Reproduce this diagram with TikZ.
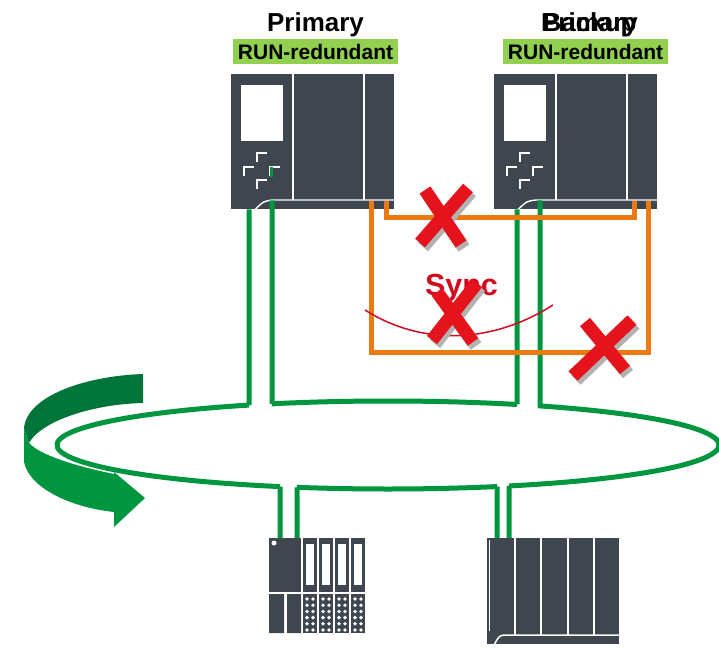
\documentclass[tikz,border=0pt]{standalone}
\usepackage{fontspec}
\setmainfont{Liberation Sans}
\usetikzlibrary{calc}
\definecolor{ardoise}{HTML}{3F4650}
\definecolor{vertres}{HTML}{009640}
\definecolor{vertfonce}{HTML}{00753A}
\definecolor{vertclair}{HTML}{92D050}
\definecolor{orangesync}{HTML}{EC7A12}
\definecolor{rougex}{HTML}{E5141C}
\definecolor{rougetxt}{HTML}{D10A1E}

% face avant d'une CPU (coordonnees locales, origine en haut a gauche)
\newcommand{\facecpu}{%
  \draw[white,line width=1.4] (62,0) -- (62,126) (133,0) -- (133,126);
  \draw[white,line width=1.4] (24,135.5) .. controls (33,127) .. (42,126) -- (163,126);
  \fill[white] (10,11) rectangle (52,67);
  \foreach \cx/\cy in {26/79,13/93,39/93,26/106}
    \draw[white,line width=1.3] (\cx,\cy+9) |- (\cx+10,\cy);
}
% croix rouge avec ombre
\newcommand{\croix}[4]{%
  \draw[ombre] #1 -- #2 #3 -- #4;
  \draw[barre] #1 -- #2 #3 -- #4;
}

\begin{document}
\begin{tikzpicture}[x=1pt,y=-1pt,
    plc/.style={fill=ardoise,anchor=north west,inner sep=0},
    cpu/.style={plc,minimum width=163,minimum height=135},
    titre/.style={anchor=base,font=\fontsize{26}{30}\selectfont\bfseries},
    etat/.style={fill=vertclair,inner sep=0,minimum width=165,minimum height=25,
      font=\fontsize{21}{24}\selectfont\bfseries},
    reseau/.style={vertres,line width=5},
    sync/.style={orangesync,line width=5},
    barre/.style={rougex,line width=13},
    ombre/.style={black!30,line width=13,shift={(3,4)}}]
  \useasboundingbox (0,0) rectangle (719,647);

  % fleche de rotation
  \fill[vertfonce] (143,374) .. controls (85,376) and (27,396) .. (24,428)
    -- (29,443) .. controls (42,420) and (95,404) .. (143,403) -- cycle;
  \fill[vertres] (24,428) -- (24,462) .. controls (30,490) and (75,508) .. (114,512)
    -- (114,527) -- (145,498) -- (114,472) -- (114,474)
    .. controls (75,466) and (40,455) .. (29,443) -- cycle;

  % CPU
  \node[cpu] (prim) at (231,74) {};
  \node[cpu] (back) at (494,74) {};
  \begin{scope}[shift={(prim.north west)}] \facecpu \end{scope}
  \begin{scope}[shift={(back.north west)}] \facecpu \end{scope}
  \draw[vertres,line width=2.5] (271.5,167) -- (271.5,177);

  \node[titre] (tprim) at (315.5,32) {Primary};
  \node[titre] (tback) at (589.5,32) {Backup};
  \node[titre] (tback2) at (589.5,32) {Primary};
  \node[etat] (eprim) at (315.5,51.5) {RUN-redundant};
  \node[etat] (eback) at (585.5,51.5) {RUN-redundant};

  % stations E/S
  \node[plc,minimum width=32,minimum height=54] (io1) at (269,538) {};
  \fill[white] (274,543) circle[radius=2.5pt];
  \fill[ardoise] (269,594) rectangle (284,633) (287,594) rectangle (301,633);
  \foreach \x in {303,319,335,351}{
    \fill[ardoise] (\x,538) rectangle ++(14,54);
    \fill[white] (\x+3,544) rectangle ++(8,41);
    \fill[ardoise] (\x,594) rectangle ++(14,39);
    \foreach \y in {0,...,5}
      \fill[white] (\x+4,599+6.2*\y) circle[radius=1.9pt] (\x+10,599+6.2*\y) circle[radius=1.9pt];
  }
  \node[plc,minimum width=132,minimum height=106] (io2) at (487,538) {};
  \draw[white,line width=1.2] (489.5,540) -- (489.5,631);
  \foreach \x in {515,541,568,594} \draw[white,line width=1.5] (\x,538) -- (\x,634.5);
  \draw[white,line width=1.5] (494,645) .. controls (499,636) .. (504,635) -- (619,635);

  % points de raccordement
  \coordinate (pL) at ([xshift=18]prim.south west);
  \coordinate (pR) at ([shift={(41,-9)}]prim.south west);
  \coordinate (bL) at ([xshift=23]back.south west);
  \coordinate (bR) at ([shift={(46,-9)}]back.south west);
  \coordinate (io1L) at ([xshift=11]io1.north west);
  \coordinate (io1R) at ([xshift=28]io1.north west);
  \coordinate (io2L) at ([xshift=10]io2.north west);
  \coordinate (io2R) at ([xshift=22]io2.north west);
  \coordinate (anneau) at (388,445);

  % anneau PROFINET
  \draw[reseau] (bR) |- ($(anneau)+(297.34:331 and 44)$)
    arc[start angle=297.34,end angle=428.56,x radius=331,y radius=44] -| (io2R);
  \draw[reseau] (io2L) |- ($(anneau)+(70.77:331 and 44)$)
    arc[start angle=70.77,end angle=105.96,x radius=331,y radius=44] -| (io1R);
  \draw[reseau] (io1L) |- ($(anneau)+(109.04:331 and 44)$)
    arc[start angle=109.04,end angle=245.17,x radius=331,y radius=44] -| (pL);
  \draw[reseau] (pR) |- ($(anneau)+(249.48:331 and 44)$)
    arc[start angle=249.48,end angle=292.94,x radius=331,y radius=44] -| (bL);

  % liaisons de synchro
  \draw[sync] ([shift={(140,-8)}]prim.south west) -- ++(0,151) -| ([shift={(154,-8)}]back.south west);
  \draw[sync] ([shift={(155,-8)}]prim.south west) -- ++(0,16) -| ([shift={(140,-8)}]back.south west);

  \node[anchor=base,text=rougetxt,font=\fontsize{30.5}{34}\selectfont\bfseries] (tsync) at (461.5,295) {Sync};
  \draw[rougetxt,line width=1.5] (365,310) .. controls (420,345) and (490,345) .. (553,305);

  \croix{(425,190)}{(461,244)}{(468,188)}{(420,243)}
  \croix{(437,292)}{(473,342)}{(477,283)}{(432,340)}
  \croix{(585,322)}{(625,370)}{(632,320)}{(573,376)}
\end{tikzpicture}
\end{document}
